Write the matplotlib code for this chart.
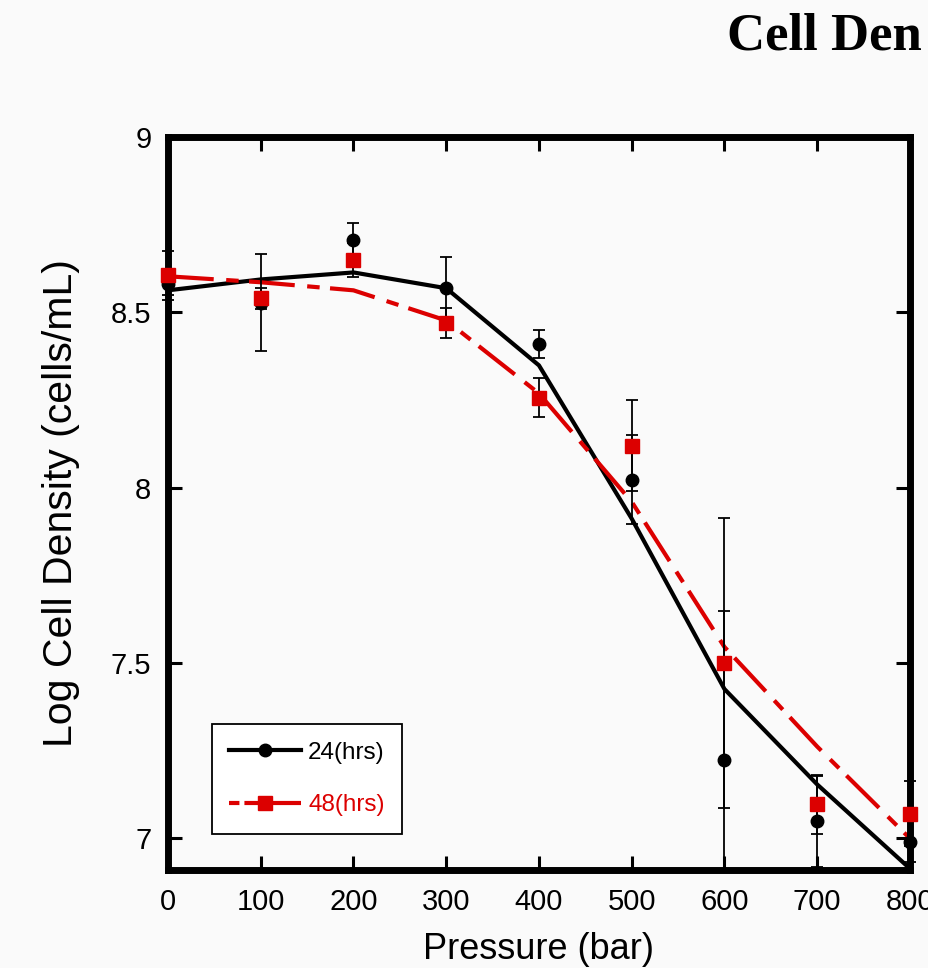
import matplotlib
matplotlib.use('Agg')
import matplotlib.pyplot as plt
from matplotlib.lines import Line2D
from matplotlib.patches import Rectangle

plt.rcParams['font.family'] = ['Liberation Sans', 'DejaVu Sans']

# Data
pressure = [0, 100, 200, 300, 400, 500, 600, 700, 800]

cells_24 = [8.58, 8.528, 8.706, 8.569, 8.411, 8.023, 7.223, 7.049, 6.991]
err_24 = [0.03, 0.138, 0.048, 0.088, 0.04, 0.127, 0.426, 0.13, 0.058]
fit_24 = [8.563, 8.594, 8.614, 8.569, 8.349, 7.912, 7.426, 7.154, 6.914]

cells_48 = [8.606, 8.54, 8.649, 8.471, 8.257, 8.12, 7.5, 7.097, 7.071]
err_48 = [0.07, 0.03, 0.048, 0.043, 0.055, 0.13, 0.414, 0.083, 0.092]
fit_48 = [8.603, 8.586, 8.563, 8.477, 8.269, 7.96, 7.546, 7.262, 7.0]

x_ticks = [0, 100, 200, 300, 400, 500, 600, 700, 800]
y_ticks = [7, 7.5, 8, 8.5, 9]
y_tick_labels = ['7', '7.5', '8', '8.5', '9']

red = '#dc0000'
bg = '#fafafa'

fig = plt.figure(figsize=(9.29, 9.68), dpi=100, facecolor=bg)
ax = fig.add_axes([0.1808, 0.1012, 0.7987, 0.7572], facecolor=bg)

# fitted curves
ax.plot(pressure, fit_24, color='black', lw=3, zorder=3)
ax.plot(pressure, fit_48, color=red, lw=3, dashes=(11, 3, 3, 2.5), zorder=3)

# error bars (all black), clipped vertically only
clip_rect = Rectangle((-0.05, 0), 1.1, 1, transform=ax.transAxes)
for vals, errs in [(cells_24, err_24), (cells_48, err_48)]:
    eb = ax.errorbar(pressure, vals, yerr=errs, fmt='none', ecolor='black',
                     elinewidth=1.3, capsize=4.5, capthick=1.3, zorder=4)
    for art in list(eb.lines[1]) + list(eb.lines[2]):
        art.set_clip_path(clip_rect)

# markers
ax.plot(pressure, cells_24, 'o', color='black', ms=9, zorder=6, clip_on=False)
ax.plot(pressure, cells_48, 's', color=red, ms=9.5, zorder=7, clip_on=False)

ax.set_xlim(0, 800)
ax.set_ylim(6.91, 9.0)
ax.set_xticks(x_ticks)
ax.set_yticks(y_ticks)
ax.set_yticklabels(y_tick_labels)

for sp in ax.spines.values():
    sp.set_linewidth(5)
    sp.set_zorder(5)
ax.tick_params(direction='in', length=10, width=2.2, top=True, right=True,
               labelsize=21)
ax.tick_params(axis='x', pad=13)
ax.tick_params(axis='y', pad=12)

ax.set_xlabel('Pressure (bar)', fontsize=26)
ax.xaxis.set_label_coords(0.5, -0.085)
ax.set_ylabel('Log Cell Density (cells/mL)', fontsize=29.5)
ax.yaxis.set_label_coords(-0.119, 0.5)

# legend
h24 = Line2D([], [], color='black', lw=3, marker='o', ms=9)
h48 = Line2D([], [], color=red, lw=3, marker='s', ms=9.5, dashes=(2.5, 1.2, 30, 1))
leg = ax.legend([h24, h48], ['24(hrs)', '48(hrs)'], loc='upper left',
                bbox_to_anchor=(0.059, 0.199), borderaxespad=0, fontsize=17.5,
                handlelength=2.95, handletextpad=0.3, labelspacing=1.25,
                borderpad=0.72, fancybox=False, framealpha=1)
leg.get_frame().set_edgecolor('black')
leg.get_frame().set_linewidth(1.3)
leg.get_frame().set_facecolor('white')
leg.get_texts()[1].set_color(red)

fig.text(727 / 929, 1 - 50 / 968, 'Cell Den', family='Liberation Serif',
         weight='bold', fontsize=38, va='baseline', ha='left')

fig.savefig('out.png', dpi=100, facecolor=bg)
